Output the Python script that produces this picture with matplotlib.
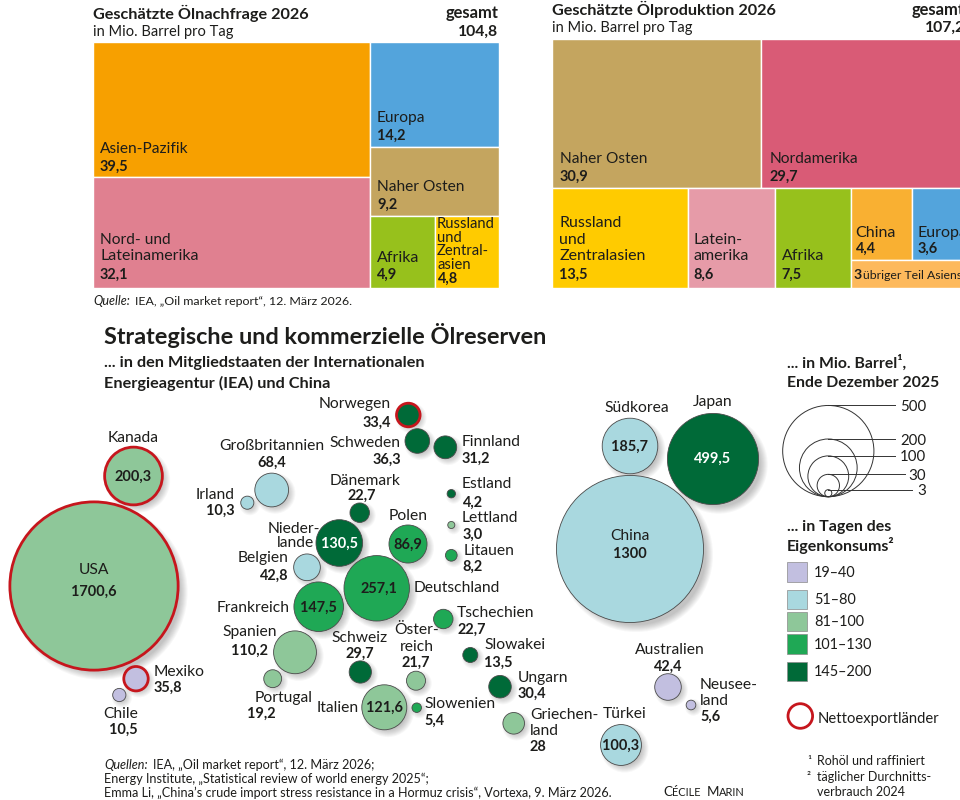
import numpy as np
import matplotlib
matplotlib.use("Agg")
import matplotlib.pyplot as plt
from matplotlib.patches import Circle, Rectangle

plt.rcParams["font.family"] = ["Lato", "DejaVu Sans"]

# demand treemap
demand_names = ["Asien-Pazifik", "Nord- und\nLateinamerika", "Europa", "Naher Osten", "Afrika",
                "Russland\nund\nZentral-\nasien"]
demand_values = [39.5, 32.1, 14.2, 9.2, 4.9, 4.8]
demand_colors = ["#f7a000", "#e08090", "#53a4dc", "#c4a55f", "#97c11c", "#ffcb00"]

# production treemap
prod_names = ["Naher Osten", "Nordamerika", "Russland\nund\nZentralasien", "Lateinamerika", "Afrika",
              "China", "Europa", "übriger Teil Asiens"]
prod_values = [30.9, 29.7, 13.5, 8.6, 7.5, 4.4, 3.6, 3.0]
prod_colors = ["#c4a55f", "#d95b76", "#ffcb00", "#e69ba8", "#97c11c", "#f9b032", "#53a4dc", "#fdb95c"]

# reserves
countries = ["USA", "Kanada", "Mexiko", "Chile", "Irland", "Großbritannien", "Belgien", "Niederlande",
             "Frankreich", "Spanien", "Portugal", "Norwegen", "Schweden", "Finnland", "Dänemark",
             "Estland", "Lettland", "Litauen", "Polen", "Deutschland", "Tschechien", "Slowakei",
             "Ungarn", "Griechenland", "Schweiz", "Österreich", "Italien", "Slowenien", "China",
             "Japan", "Südkorea", "Australien", "Neuseeland", "Türkei"]
reserves = [1700.6, 200.3, 35.8, 10.5, 10.3, 68.4, 42.8, 130.5, 147.5, 110.2, 19.2, 33.4, 36.3, 31.2,
            22.7, 4.2, 3.0, 8.2, 86.9, 257.1, 22.7, 13.5, 30.4, 28, 29.7, 21.7, 121.6, 5.4, 1300,
            499.5, 185.7, 42.4, 5.6, 100.3]
days_class = [2, 2, 0, 0, 1, 1, 1, 4, 3, 2, 2, 4, 4, 4, 4, 4, 2, 3, 3, 3, 3, 4, 4, 2, 4, 2, 2, 3, 1,
              4, 1, 0, 0, 1]
exporters = ["USA", "Kanada", "Mexiko", "Norwegen"]
class_labels = ["19–40", "51–80", "81–100", "101–130", "145–200"]
class_colors = ["#c2bfe0", "#a9d8df", "#8ec799", "#1fa855", "#006a38"]
legend_sizes = [500, 200, 100, 30, 3]

# layout, bubble centres in pixels
bubble_xy = [(94, 586), (133.5, 476), (136, 678.7), (119.3, 695), (247.3, 502.7), (271.7, 490),
             (307, 567.3), (339.3, 543), (318.7, 606.7), (295, 652.3), (272.7, 678.7), (408.3, 415),
             (417.3, 441), (445.3, 447.3), (359.7, 512.7), (451.3, 493.7), (451.3, 525), (451.3, 555.3),
             (408, 544), (376.7, 588.3), (443.3, 619), (470.3, 655), (500, 686.7), (513.7, 723.3),
             (360.3, 672), (416, 680.7), (384.3, 707.3), (416.7, 707.7), (630, 549), (713, 459),
             (630, 446), (668, 687), (691, 705), (621, 745)]
R_SCALE = 2.04

TXT = "#1d1d1b"
NAME_PX = 15.6
VALUE_PX = 14.5
fig = plt.figure(figsize=(9.6, 8), dpi=100)
ax = fig.add_axes([0, 0, 1, 1])
ax.set_xlim(0, 960)
ax.set_ylim(800, 0)
ax.axis("off")


def txt(x, y, s, px=15.5, bold=False, ha="left", color=TXT, italic=False):
    return ax.text(x, y, s, fontsize=px * 0.72, fontweight="bold" if bold else "normal", ha=ha, va="baseline",
                   color=color, fontstyle="italic" if italic else "normal", zorder=10)


def box(x0, y0, x1, y1, color):
    ax.add_patch(Rectangle((x0, y0), x1 - x0, y1 - y0, facecolor=color, edgecolor="white", lw=1.0, zorder=2))


# left treemap
x0, x1, y0, y1 = 92.5, 498.5, 42, 287.5
v = demand_values
xm = x0 + (x1 - x0) * (v[0] + v[1]) / sum(v)
ym = y0 + (y1 - y0) * v[0] / (v[0] + v[1])
box(x0, y0, xm, ym, demand_colors[0])
box(x0, ym, xm, y1, demand_colors[1])
rest = sum(v[2:])
y2 = y0 + (y1 - y0) * v[2] / rest
y3 = y2 + (y1 - y0) * v[3] / rest
xs = xm + (x1 - xm) * v[4] / (v[4] + v[5])
box(xm, y0, x1, y2, demand_colors[2])
box(xm, y2, x1, y3, demand_colors[3])
box(xm, y3, xs, y1, demand_colors[4])
box(xs, y3, x1, y1, demand_colors[5])

txt(93, 19, "Geschätzte Ölnachfrage 2026", 16.2, True)
txt(93, 36, "in Mio. Barrel pro Tag", 14.6)
txt(498, 18, "gesamt", 16.5, True, ha="right")
txt(498, 36, "104,8", 15.8, True, ha="right")
txt(100, 153, demand_names[0])
txt(100, 171, "39,5", VALUE_PX, True)
txt(100, 244, "Nord- und")
txt(100, 260.5, "Lateinamerika", 16)
txt(100, 279, "32,1", VALUE_PX, True)
txt(377, 122, demand_names[2])
txt(377, 139.7, "14,2", VALUE_PX, True)
txt(377, 190.7, demand_names[3])
txt(377, 208.3, "9,2", VALUE_PX, True)
txt(377, 261.7, demand_names[4], 16)
txt(377, 278.7, "4,9", VALUE_PX, True)
for yy, s in zip([227.7, 241.5, 255, 269], demand_names[5].split("\n")):
    txt(437, yy, s, 14.8)
txt(437.5, 282.7, "4,8", VALUE_PX, True)
txt(93, 305, "Quelle:", 12.5, italic=True)
txt(135, 305, "IEA, „Oil market report“, 12. März 2026.", 12.4)

# right treemap
x0, x1, y0, y1 = 552, 962, 38.5, 287.5
v = prod_values
top = v[0] + v[1]
ym = y0 + (y1 - y0) * top / sum(v)
xm = x0 + (x1 - x0) * v[0] / top
box(x0, y0, xm, ym, prod_colors[0])
box(xm, y0, x1, ym, prod_colors[1])
bottom = sum(v[2:])
xa = x0 + (x1 - x0) * v[2] / bottom
xb = xa + (x1 - x0) * v[3] / bottom
xc = xb + (x1 - x0) * v[4] / bottom
box(x0, ym, xa, y1, prod_colors[2])
box(xa, ym, xb, y1, prod_colors[3])
box(xb, ym, xc, y1, prod_colors[4])
ys = ym + (y1 - ym) * (v[5] + v[6]) / (v[5] + v[6] + v[7])
xd = xc + (x1 - xc) * v[5] / (v[5] + v[6])
box(xc, ym, xd, ys, prod_colors[5])
box(xd, ym, x1, ys, prod_colors[6])
box(xc, ys, x1, y1, prod_colors[7])

txt(552, 15, "Geschätzte Ölproduktion 2026", 16.2, True)
txt(552, 32, "in Mio. Barrel pro Tag", 14.6)
txt(965, 15, "gesamt", 16.5, True, ha="right")
txt(965, 32, "107,2", 15.8, True, ha="right")
txt(559.5, 163.3, prod_names[0])
txt(559.5, 181, "30,9", VALUE_PX, True)
txt(769.5, 163.3, prod_names[1])
txt(769.5, 181, "29,7", VALUE_PX, True)
txt(559.5, 227, "Russland", 16)
txt(559.5, 244, "und", 16)
txt(559.5, 260.5, "Zentralasien", 16)
txt(559.5, 278.7, "13,5", VALUE_PX, True)
txt(693.5, 244, "Latein-", 16)
txt(693.5, 260.5, "amerika", 16)
txt(693.5, 278.7, "8,6", VALUE_PX, True)
txt(781.5, 260.5, prod_names[4], 16)
txt(781.5, 278.7, "7,5", VALUE_PX, True)
txt(855.7, 237, prod_names[5], 16)
txt(855.7, 253, "4,4", VALUE_PX, True)
txt(917.7, 237, prod_names[6], 16)
txt(917.7, 253, "3,6", VALUE_PX, True)
txt(853, 278.7, "3", 14, True)
txt(863, 278.7, prod_names[7], 12.3)

# headings of the lower part
txt(104, 344, "Strategische und kommerzielle Ölreserven", 23.5, True)
txt(104, 367, "... in den Mitgliedstaaten der Internationalen", 16.3, True)
txt(104, 388, "Energieagentur (IEA) und China", 16.3, True)

# bubbles, shadows first so they stay behind every circle
for (bx, by), val in zip(bubble_xy, reserves):
    r = R_SCALE * np.sqrt(val)
    off = min(2 + r * 0.08, 6)
    for i in range(8):
        ax.add_patch(Circle((bx + off, by + off), r + 3.5 - i, facecolor="black", alpha=0.03, lw=0, zorder=3))
for name, (bx, by), val, c in zip(countries, bubble_xy, reserves, days_class):
    r = R_SCALE * np.sqrt(val)
    if name in exporters:
        ax.add_patch(Circle((bx, by), r, facecolor=class_colors[c], edgecolor="#c6161d", lw=2.0, zorder=4))
    else:
        ax.add_patch(Circle((bx, by), r, facecolor=class_colors[c], edgecolor="#4a4a4a", lw=0.6, zorder=4))

# country labels: text, x, baseline, align, bold
labels = [
    ("USA", 94, 574, "center", False), ("1700,6", 94, 595.7, "center", True),
    ("Kanada", 133.5, 442, "center", False), ("200,3", 133.5, 481, "center", True),
    ("Mexiko", 154, 675.7, "left", False), ("35,8", 154, 691.7, "left", True),
    ("Chile", 103.3, 718, "left", False), ("10,5", 137.3, 734, "right", True),
    ("Irland", 235, 499, "right", False), ("10,3", 235, 515, "right", True),
    ("Großbritannien", 271.7, 450, "center", False), ("68,4", 271.7, 467, "center", True),
    ("Dänemark", 365, 485, "center", False), ("22,7", 362, 500, "center", True),
    ("Nieder-", 320, 532.7, "right", False), ("lande", 314, 547, "right", False),
    ("130,5", 339.3, 548, "center", True),
    ("Belgien", 288.7, 562, "right", False), ("42,8", 288.7, 580, "right", True),
    ("Frankreich", 289.3, 611.7, "right", False), ("147,5", 318.7, 611.7, "center", True),
    ("Spanien", 250, 636, "center", False), ("110,2", 250, 655, "center", True),
    ("Portugal", 284, 702.3, "center", False), ("19,2", 275.3, 717.3, "right", True),
    ("Italien", 358.7, 712, "right", False), ("121,6", 384.3, 712, "center", True),
    ("Schweiz", 360, 642.3, "center", False), ("29,7", 360, 658, "center", True),
    ("Norwegen", 390.7, 408.3, "right", False), ("33,4", 390.7, 426.3, "right", True),
    ("Schweden", 400.7, 446.7, "right", False), ("36,3", 400.7, 464, "right", True),
    ("Finnland", 462, 445.7, "left", False), ("31,2", 462, 462.7, "left", True),
    ("Estland", 461.3, 488.3, "left", False), ("4,2", 462.7, 506.7, "left", True),
    ("Lettland", 461.3, 522.3, "left", False), ("3,0", 462.7, 538.7, "left", True),
    ("Litauen", 463.3, 555, "left", False), ("8,2", 462.7, 570.3, "left", True),
    ("Polen", 408.3, 520, "center", False), ("86,9", 408, 549, "center", True),
    ("Deutschland", 414, 592.3, "left", False), ("257,1", 379, 593, "center", True),
    ("Tschechien", 456.7, 616.7, "left", False), ("22,7", 458, 633.7, "left", True),
    ("Slowakei", 484, 649, "left", False), ("13,5", 484, 666.3, "left", True),
    ("Ungarn", 517.3, 681.7, "left", False), ("30,4", 517.3, 697.7, "left", True),
    ("Griechen-", 530, 719, "left", False), ("land", 530, 734.7, "left", False), ("28", 530, 750.7, "left", True),
    ("Öster-", 416.7, 634, "center", False), ("reich", 416.7, 650.7, "center", False),
    ("21,7", 416, 666.7, "center", True),
    ("Slowenien", 424, 708.3, "left", False), ("5,4", 424, 724.3, "left", True),
    ("China", 630, 540, "center", False), ("1300", 630, 558, "center", True),
    ("Japan", 713, 406, "center", False), ("499,5", 713, 463, "center", True),
    ("Südkorea", 637, 412, "center", False), ("185,7", 630, 451, "center", True),
    ("Australien", 670, 654, "center", False), ("42,4", 668, 671, "center", True),
    ("Neusee-", 700, 689, "left", False), ("land", 700, 705, "left", False), ("5,6", 700, 721, "left", True),
    ("Türkei", 625, 718, "center", False), ("100,3", 621, 750, "center", True),
]
for s, lx, ly, ha, bold in labels:
    color = "white" if s == "130,5" or s == "499,5" else TXT
    txt(lx, ly, s, VALUE_PX if bold else NAME_PX, bold, ha=ha, color=color)

# sources
txt(104, 769, "Quellen:", 12.6, italic=True)
txt(153, 769, "IEA, „Oil market report“, 12. März 2026;", 12.6)
txt(104, 783, "Energy Institute, „Statistical review of world energy 2025“;", 12.6)
txt(104, 797, "Emma Li, „China’s crude import stress resistance in a Hormuz crisis“, Vortexa, 9. März 2026.", 12.6)
txt(663, 796, "C", 13.5)
txt(672, 796, "ÉCILE", 11)
txt(707, 796, "M", 13.5)
txt(719, 796, "ARIN", 11)

# size legend
txt(787, 368, "... in Mio. Barrel¹,", 15.7, True)
txt(787, 387, "Ende Dezember 2025", 15.7, True)
lx, ly = 828.3, 496.7
line_end = [895, 895, 895, 905, 912]
for size, le in zip(legend_sizes, line_end):
    r = R_SCALE * np.sqrt(size)
    ax.add_patch(Circle((lx, ly - r), r, facecolor="none", edgecolor="#333333", lw=0.7, zorder=5))
    ax.plot([lx, le], [ly - 2 * r, ly - 2 * r], color="#333333", lw=0.7, zorder=5)
    txt(926, ly - 2 * r + 5.5, str(size), 15, ha="right")

# colour legend
txt(787, 531, "... in Tagen des", 16, True)
txt(787, 551, "Eigenkonsums²", 16, True)
swatch_top = [562, 589.5, 611.5, 634, 661.5]
for top_y, label, color in zip(swatch_top, class_labels, class_colors):
    ax.add_patch(Rectangle((787, top_y), 19.5, 19.5, facecolor=color, edgecolor="#8a8a8a", lw=0.5, zorder=5))
    txt(814, top_y + 15, label, 14.5)

ax.add_patch(Circle((800.3, 716), 12.3, facecolor="white", edgecolor="#c6161d", lw=2.0, zorder=5))
txt(818, 723, "Nettoexportländer", 14.8)
txt(807, 765, "¹", 12)
txt(817, 765, "Rohöl und raffiniert", 12.5)
txt(807, 781, "²", 12)
txt(817, 781, "täglicher Durchnitts-", 12.5)
txt(817, 796, "verbrauch 2024", 12.5)

fig.savefig("out.png", dpi=100)
